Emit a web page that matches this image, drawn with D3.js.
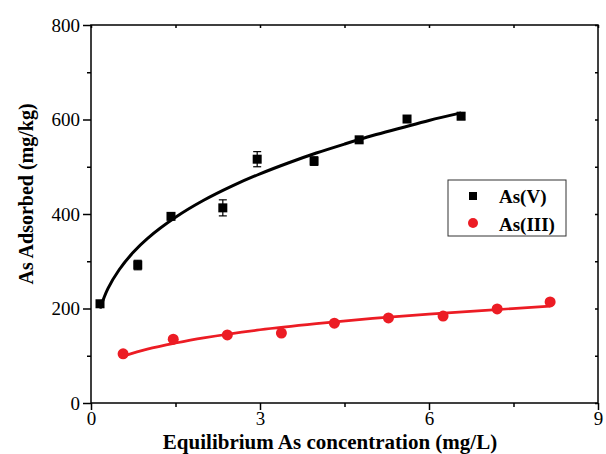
<!DOCTYPE html>
<html>
<head>
<meta charset="utf-8">
<script src="https://cdn.jsdelivr.net/npm/d3@7"></script>
<style>
  body { margin: 0; background: #fff; }
  svg text { font-family: "Liberation Serif", "Times New Roman", serif; }
</style>
</head>
<body>
<div id="chart"></div>
<script>
// As(V) measured points
const asV_C   = [0.16, 0.83, 1.42, 2.34, 2.95, 3.96, 4.76, 5.61, 6.57];
const asV_q   = [210, 292, 395, 413, 516, 512, 557, 601, 607];
const asV_err = [6, 10, 5, 17, 16, 9, 6, 5, 7];

// As(III) measured points
const asIII_C   = [0.57, 1.46, 2.42, 3.38, 4.32, 5.28, 6.25, 7.21, 8.15];
const asIII_q   = [104, 135, 144, 148, 169, 180, 184, 199, 214];
const asIII_err = [6, 5, 4, 5, 5, 4, 4, 4, 6];

// fitted curves
const fitV_C   = [0.16, 0.3, 0.5, 0.75, 1, 1.5, 2, 2.5, 3, 3.5, 4, 4.5, 5, 5.5, 6, 6.57];
const fitV_q   = [200, 242, 282, 319, 348, 393, 429, 459, 485, 508, 529, 548, 566, 582, 598, 614];
const fitIII_C = [0.57, 1, 1.5, 2, 3, 4, 5, 6, 7, 8.15];
const fitIII_q = [99, 114, 127, 138, 155, 168, 179, 188, 196, 205];

const xTicks = [0, 3, 6, 9];
const xMinor = [1.5, 4.5, 7.5];
const yTicks = [0, 200, 400, 600, 800];
const yMinor = [100, 300, 500, 700];

const width = 606, height = 454;
const mLeft = 91, mRight = 598, mTop = 25, mBottom = 403;
const red = "#ec1c24";
const serif = "'Liberation Serif', 'Times New Roman', serif";

const svg = d3.select("#chart")
  .append("svg").attr("width", width).attr("height", height);

const x = d3.scaleLinear().domain([0, 9]).range([mLeft, mRight]);
const y = d3.scaleLinear().domain([0, 800]).range([mBottom, mTop]);

// frame
svg.append("rect")
  .attr("x", mLeft).attr("y", mTop)
  .attr("width", mRight - mLeft).attr("height", mBottom - mTop)
  .attr("fill", "none").attr("stroke", "#000").attr("stroke-width", 1.5);

// bottom axis
svg.append("g").attr("class", "ax").attr("transform", `translate(0,${mBottom})`)
  .call(d3.axisBottom(x).tickValues(xTicks).tickSize(7).tickPadding(2).tickFormat(d3.format("d")));
svg.append("g").attr("class", "ax").attr("transform", `translate(0,${mBottom})`)
  .call(d3.axisBottom(x).tickValues(xMinor).tickSize(4).tickFormat(""));

// left axis
svg.append("g").attr("class", "ax").attr("transform", `translate(${mLeft},0)`)
  .call(d3.axisLeft(y).tickValues(yTicks).tickSize(8).tickPadding(3).tickFormat(d3.format("d")));
svg.append("g").attr("class", "ax").attr("transform", `translate(${mLeft},0)`)
  .call(d3.axisLeft(y).tickValues(yMinor).tickSize(4).tickFormat(""));

// mirrored ticks on top/right
svg.append("g").attr("class", "ax").attr("transform", `translate(0,${mTop})`)
  .call(d3.axisTop(x).tickValues(xTicks.concat(xMinor)).tickSize(-3).tickFormat(""));
svg.append("g").attr("class", "ax").attr("transform", `translate(${mRight},0)`)
  .call(d3.axisRight(y).tickValues(yTicks.concat(yMinor)).tickSize(-3).tickFormat(""));

svg.selectAll(".ax").attr("font-family", serif).attr("font-size", 19);
svg.selectAll(".domain").remove();
svg.selectAll(".tick line").attr("stroke", "#000").attr("stroke-width", 1.5);
svg.selectAll(".tick text")
  .attr("fill", "#000")
  .style("font-family", serif)
  .style("font-weight", "normal")
  .style("font-size", "19px");

// fitted lines
const line = d3.line().x(d => x(d[0])).y(d => y(d[1])).curve(d3.curveCatmullRom.alpha(0.5));

svg.append("path")
  .datum(fitV_C.map((c, i) => [c, fitV_q[i]]))
  .attr("d", line).attr("fill", "none")
  .attr("stroke", "#000").attr("stroke-width", 3);

svg.append("path")
  .datum(fitIII_C.map((c, i) => [c, fitIII_q[i]]))
  .attr("d", line).attr("fill", "none")
  .attr("stroke", red).attr("stroke-width", 2.7);

// error bars
function errBars(C, q, err, color) {
  const g = svg.append("g").attr("stroke", color).attr("stroke-width", 1.2);
  C.forEach((c, i) => {
    const cx = x(c), y0 = y(q[i] - err[i]), y1 = y(q[i] + err[i]);
    g.append("line").attr("x1", cx).attr("x2", cx).attr("y1", y0).attr("y2", y1);
    g.append("line").attr("x1", cx - 4).attr("x2", cx + 4).attr("y1", y0).attr("y2", y0);
    g.append("line").attr("x1", cx - 4).attr("x2", cx + 4).attr("y1", y1).attr("y2", y1);
  });
}
errBars(asV_C, asV_q, asV_err, "#000");
errBars(asIII_C, asIII_q, asIII_err, red);

// markers
svg.append("g").selectAll("rect")
  .data(asV_C.map((c, i) => [c, asV_q[i]]))
  .join("rect")
  .attr("x", d => x(d[0]) - 4.5).attr("y", d => y(d[1]) - 4.5)
  .attr("width", 9).attr("height", 9).attr("fill", "#000");

svg.append("g").selectAll("circle")
  .data(asIII_C.map((c, i) => [c, asIII_q[i]]))
  .join("circle")
  .attr("cx", d => x(d[0])).attr("cy", d => y(d[1]))
  .attr("r", 5.5).attr("fill", red);

// legend
const lg = svg.append("g");
lg.append("rect").attr("x", 448).attr("y", 180).attr("width", 118).attr("height", 56)
  .attr("fill", "#fff").attr("stroke", "#333").attr("stroke-width", 1);
lg.append("rect").attr("x", 469).attr("y", 192).attr("width", 8).attr("height", 8).attr("fill", "#000");
lg.append("circle").attr("cx", 473).attr("cy", 223).attr("r", 5).attr("fill", red);
lg.append("text").attr("x", 499).attr("y", 203).attr("font-size", 19).attr("font-weight", "bold").text("As(V)");
lg.append("text").attr("x", 499).attr("y", 231).attr("font-size", 19).attr("font-weight", "bold").text("As(III)");

// axis titles
svg.append("text")
  .attr("x", 330).attr("y", 449)
  .attr("text-anchor", "middle").attr("font-size", 21).attr("font-weight", "bold")
  .text("Equilibrium As concentration (mg/L)");

svg.append("text")
  .attr("transform", "translate(33,194) rotate(-90)")
  .attr("text-anchor", "middle").attr("font-size", 20).attr("font-weight", "bold")
  .text("As Adsorbed (mg/kg)");
</script>
</body>
</html>
